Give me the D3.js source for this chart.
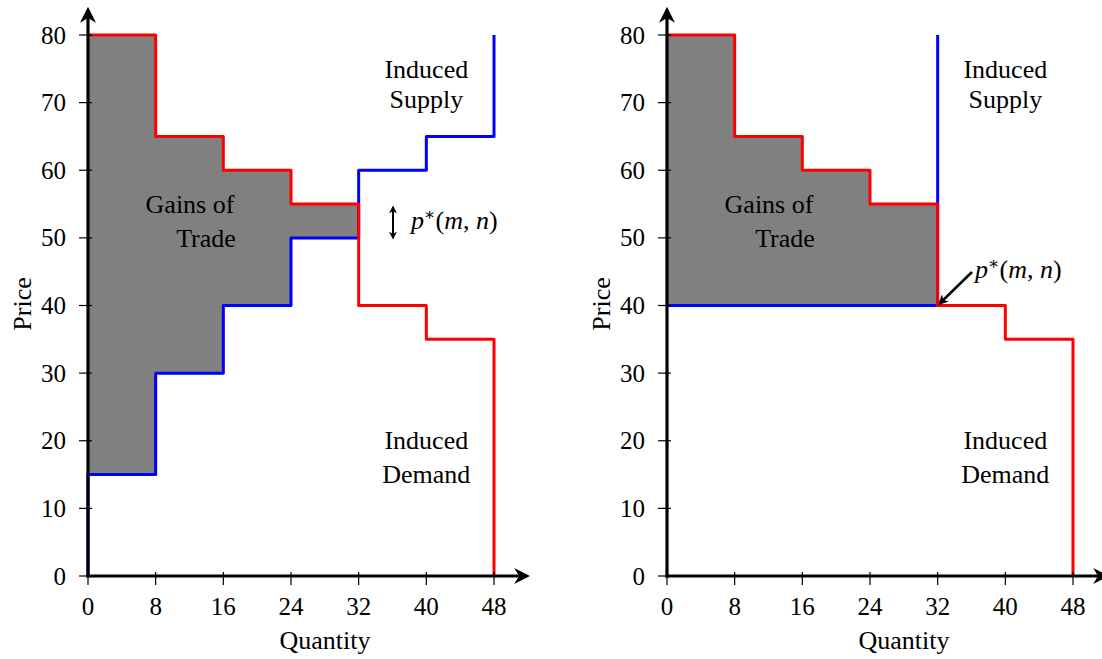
<!DOCTYPE html>
<html>
<head>
<meta charset="utf-8">
<script src="https://d3js.org/d3.v7.min.js"></script>
<style>
  body { margin: 0; background: #fff; }
</style>
</head>
<body>
<div id="chart"></div>
<script>
// step data (x breakpoints and price levels)
const demandX = [0, 8, 16, 24, 32, 40, 48];
const demandP = [80, 65, 60, 55, 40, 35];
const supplyLeftX = [0, 8, 16, 24, 32, 40, 48];
const supplyLeftP = [15, 30, 40, 50, 60, 65];
const supplyRightP = 40;
const supplyRightQ = 32;
const xTicks = [0, 8, 16, 24, 32, 40, 48];
const yTicks = [0, 10, 20, 30, 40, 50, 60, 70, 80];

const W = 1102, H = 659;
const svg = d3.select("#chart").append("svg")
    .attr("width", W).attr("height", H)
    .attr("font-family", "'Liberation Serif', 'DejaVu Serif', serif");

const defs = svg.append("defs");
defs.append("marker")
    .attr("id", "arr")
    .attr("viewBox", "0 0 10 10")
    .attr("refX", 8).attr("refY", 5)
    .attr("markerWidth", 5).attr("markerHeight", 5)
    .attr("markerUnits", "strokeWidth")
    .attr("orient", "auto-start-reverse")
    .append("path")
    .attr("d", "M0,0 L10,5 L0,10 L3,5 Z")
    .attr("fill", "#000");
defs.append("marker")
    .attr("id", "arrs")
    .attr("viewBox", "0 0 10 10")
    .attr("refX", 8).attr("refY", 5)
    .attr("markerWidth", 4).attr("markerHeight", 4)
    .attr("orient", "auto-start-reverse")
    .append("path")
    .attr("d", "M0,0 L10,5 L0,10 L3,5 Z")
    .attr("fill", "#000");

function stepPoints(xs, ps) {
    const pts = [];
    ps.forEach((p, i) => { pts.push([xs[i], p]); pts.push([xs[i + 1], p]); });
    return pts;
}

function panel(x0, which) {
    const x = d3.scaleLinear().domain([0, 48]).range([x0, x0 + 406]);
    const y = d3.scaleLinear().domain([0, 80]).range([576, 35]);
    const g = svg.append("g");
    const line = d3.line().x(d => x(d[0])).y(d => y(d[1]));

    const dem = [[0, 80]].concat(stepPoints(demandX, demandP)).concat([[48, 0]]);
    let sup, fill;
    if (which === 0) {
        sup = [[0, 0]].concat(stepPoints(supplyLeftX, supplyLeftP)).concat([[48, 80]]);
        // gain region up to q=32
        const top = stepPoints(demandX.slice(0, 5), demandP.slice(0, 4));
        const bot = stepPoints(supplyLeftX.slice(0, 5), supplyLeftP.slice(0, 4)).reverse();
        fill = top.concat(bot);
    } else {
        sup = [[0, supplyRightP], [supplyRightQ, supplyRightP], [supplyRightQ, 80]];
        const top = stepPoints(demandX.slice(0, 5), demandP.slice(0, 4));
        fill = top.concat([[supplyRightQ, supplyRightP], [0, supplyRightP]]);
    }

    g.append("path").attr("d", line(fill) + "Z").attr("fill", "#808080");

    g.append("path").attr("d", line(sup)).attr("fill", "none")
        .attr("stroke", "#0000ff").attr("stroke-width", 3).attr("stroke-linejoin", "round");
    g.append("path").attr("d", line(dem)).attr("fill", "none")
        .attr("stroke", "#ff0000").attr("stroke-width", 3).attr("stroke-linejoin", "round");

    // axes
    g.append("line").attr("x1", x(0)).attr("y1", y(0) + 1.5).attr("x2", x(0)).attr("y2", 10)
        .attr("stroke", "#000").attr("stroke-width", 3.2).attr("marker-end", "url(#arr)");
    g.append("line").attr("x1", x(0) - 1.5).attr("y1", y(0)).attr("x2", x0 + 439).attr("y2", y(0))
        .attr("stroke", "#000").attr("stroke-width", 3.2).attr("marker-end", "url(#arr)");

    yTicks.forEach(t => {
        g.append("line").attr("x1", x(0) - 9).attr("x2", x(0) + 4)
            .attr("y1", y(t)).attr("y2", y(t)).attr("stroke", "#000").attr("stroke-width", 1.2);
        g.append("text").attr("x", x(0) - 22).attr("y", y(t) + 8.5)
            .attr("text-anchor", "end").attr("font-size", 25).text(t);
    });
    xTicks.forEach(t => {
        g.append("line").attr("x1", x(t)).attr("x2", x(t))
            .attr("y1", y(0) - 4).attr("y2", y(0) + 9).attr("stroke", "#000").attr("stroke-width", 1.2);
        g.append("text").attr("x", x(t)).attr("y", 615)
            .attr("text-anchor", "middle").attr("font-size", 25).text(t);
    });

    g.append("text").attr("transform", `translate(${x0 - 57},304) rotate(-90)`)
        .attr("text-anchor", "middle").attr("font-size", 26).text("Price");
    g.append("text").attr("x", x0 + 237).attr("y", 649)
        .attr("text-anchor", "middle").attr("font-size", 26).text("Quantity");

    const lbl = (tx, ty, s) => g.append("text").attr("x", tx).attr("y", ty)
        .attr("text-anchor", "middle").attr("font-size", 26).text(s);
    lbl(x(40), 78, "Induced");
    lbl(x(40), 108, "Supply");
    lbl(x(40), 449, "Induced");
    lbl(x(40), 483, "Demand");
    lbl(x0 + 102, 213, "Gains of");
    lbl(x0 + 118, 247, "Trade");

    const pstar = (tx, ty) => {
        const t = g.append("text").attr("x", tx).attr("y", ty).attr("font-size", 26);
        t.append("tspan").attr("font-style", "italic").text("p");
        t.append("tspan").attr("dy", -9).attr("font-size", 17).text("∗");
        t.append("tspan").attr("dy", 9).text("(");
        t.append("tspan").attr("font-style", "italic").text("m");
        t.append("tspan").text(", ");
        t.append("tspan").attr("font-style", "italic").text("n");
        t.append("tspan").text(")");
    };
    if (which === 0) {
        g.append("line").attr("x1", x0 + 305).attr("y1", 207).attr("x2", x0 + 305).attr("y2", 238)
            .attr("stroke", "#000").attr("stroke-width", 2)
            .attr("marker-start", "url(#arrs)").attr("marker-end", "url(#arrs)");
        pstar(x0 + 323, 229);
    } else {
        g.append("line").attr("x1", x0 + 305).attr("y1", 272).attr("x2", x(32) + 2).attr("y2", y(40) - 2)
            .attr("stroke", "#000").attr("stroke-width", 2.5).attr("marker-end", "url(#arrs)");
        pstar(x0 + 308, 278);
    }
}

panel(88, 0);
panel(667, 1);
</script>
</body>
</html>
